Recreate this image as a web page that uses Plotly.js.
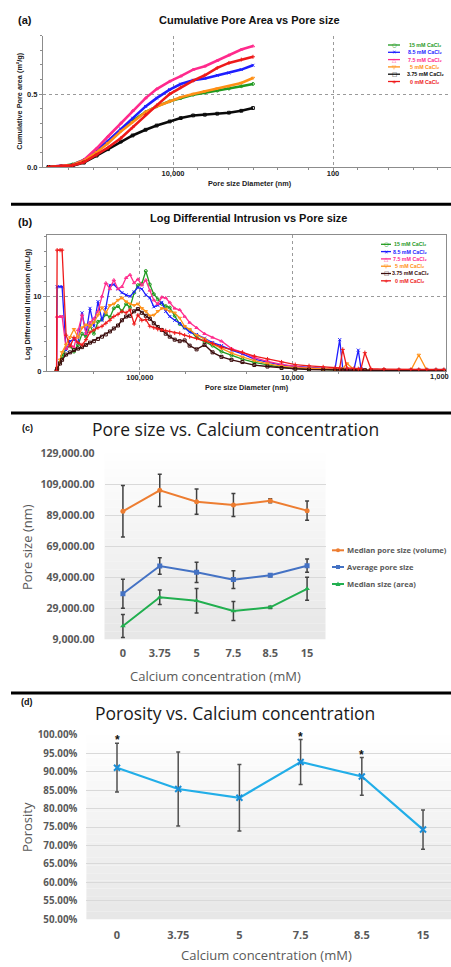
<!DOCTYPE html>
<html><head><meta charset="utf-8">
<script src="https://cdn.plot.ly/plotly-3.0.1.min.js"></script>
<style>html,body{margin:0;padding:0;background:#fff}#chart{width:451px;height:967px}</style>
</head><body><div id="chart"></div>
<script>
// ================= DATA =================
const seriesNames = ['15 mM CaCl₂','8.5 mM CaCl₂','7.5 mM CaCl₂','5 mM CaCl₂','3.75 mM CaCl₂','0 mM CaCl₂'];

// (a) Cumulative pore area (m²/g) vs pore size diameter (nm)
const areaDiameter = [360000,250000,180000,130000,90000,65000,45000,32000,22000,16000,11000,8000,5600,4000,2800,2000,1400,1000];
const area15  = [0,0.005,0.018,0.048,0.110,0.174,0.255,0.317,0.376,0.415,0.450,0.472,0.495,0.509,0.523,0.537,0.553,0.569];
const area85  = [0.002,0.007,0.014,0.041,0.110,0.179,0.261,0.335,0.415,0.472,0.530,0.568,0.594,0.606,0.628,0.644,0.667,0.697];
const area75  = [0.002,0.007,0.014,0.048,0.128,0.209,0.300,0.385,0.472,0.534,0.587,0.622,0.667,0.690,0.729,0.766,0.805,0.828];
const area5   = [0,0.005,0.014,0.041,0.101,0.163,0.243,0.307,0.376,0.415,0.450,0.477,0.500,0.518,0.537,0.553,0.576,0.610];
const area375 = [0,0.002,0.009,0.030,0.078,0.122,0.174,0.216,0.255,0.284,0.312,0.335,0.353,0.358,0.365,0.372,0.385,0.404];
const area0   = [0,0.005,0.011,0.032,0.083,0.133,0.197,0.271,0.358,0.422,0.500,0.546,0.592,0.628,0.679,0.713,0.736,0.755];
const areaTickVals = [10000, 100];
const areaTickText = ['10,000', '100'];

// (b) Log differential intrusion (mL/g) vs pore size diameter (nm)
const ldiDiameter = [351000,348000,333000,323000,304000,286000,270000,254000,239000,225000,212000,200000,188000,177000,167000,157000,148000,139000,131000,123000,116000,109000,103000,97000,91400,86000,81000,76300,71800,67700,63700,59100,54800,50900,47200,42500,37700,33400,29200,25100,21300,17800,14600,11800,9600,7800,6300,5270,4910,4690,4400,3960,3710,3560,3360,3070,2520,2010,1680,1490,1320,1150,1020];
const ldi15  = [0,0.3,1.2,2.0,3.0,3.4,2.6,3.5,5.0,4.6,6.1,5.0,6.6,6.9,7.6,7.2,8.4,8.7,8.0,9.0,8.5,10.5,11.5,11.7,13.4,11.6,10.3,9.6,9.0,8.7,8.5,7.4,6.3,5.8,5.5,4.5,3.9,3.4,2.6,2.1,1.6,1.15,0.85,0.5,0.35,0.25,0.18,0.12,0.1,0.1,0.1,0.08,0.08,0.08,0.08,0.06,0.06,0.05,0.05,0.05,0.05,0.05,0.05];
const ldi85  = [0,11.3,11.3,11.3,2.8,4.0,4.2,3.8,7.8,5.0,8.4,6.0,9.3,6.8,8.5,11.5,11.6,11.0,10.5,10.2,10.0,10.6,11.2,11.0,10.2,9.8,8.6,8.8,9.2,8.0,7.3,6.8,6.4,5.8,5.2,4.9,4.4,3.8,3.4,2.8,2.3,1.6,1.2,0.8,0.6,0.45,0.3,0.25,4.2,0.3,0.2,0.2,2.8,0.3,0.15,0.15,0.12,0.1,0.1,0.1,0.1,0.1,0.1];
const ldi75  = [0,7.3,7.3,7.3,3.0,3.5,3.2,5.5,7.5,5.0,6.5,7.0,8.0,10.0,11.8,11.0,12.2,11.0,11.3,12.5,12.9,11.8,12.3,11.5,12.2,10.8,9.5,9.0,9.9,9.8,9.2,8.4,8.2,7.3,6.5,5.8,5.0,4.5,4.0,3.0,2.5,1.8,1.3,0.9,0.6,0.4,0.3,0.25,0.2,0.2,0.2,0.15,0.15,0.15,0.15,0.12,0.12,0.1,0.1,0.1,0.1,0.1,0.1];
const ldi5   = [0,0.3,1.5,2.5,3.5,4.5,5.6,4.5,5.8,6.2,6.0,6.5,7.5,8.5,7.8,8.8,9.0,9.5,9.8,9.3,9.0,8.8,9.0,8.4,8.0,7.4,7.5,8.0,8.4,8.3,8.0,7.8,7.1,6.0,5.6,4.8,4.3,3.6,3.0,2.4,1.9,1.4,1.0,0.65,0.45,0.35,0.25,0.2,0.2,0.3,1.0,0.2,0.15,0.15,0.15,0.12,0.12,0.1,0.1,2.15,0.1,0.1,0.1];
const ldi375 = [0,0.3,1.0,1.5,2.2,2.5,2.8,3.0,3.2,3.5,3.8,4.0,4.3,4.6,4.9,5.3,5.7,6.1,6.8,7.3,7.4,8.0,8.3,7.8,7.4,7.0,6.4,5.9,5.5,5.0,4.6,4.2,4.0,4.1,3.4,2.9,3.5,2.5,1.9,1.5,1.2,0.8,0.6,0.4,0.3,0.2,0.15,0.1,0.1,0.1,0.1,0.1,0.1,0.1,0.1,0.08,0.08,0.05,0.05,0.05,0.05,0.05,0.05];
const ldi0   = [0,16.2,16.2,16.2,4.8,3.3,4.5,3.8,3.5,4.2,5.2,5.5,5.8,6.0,6.4,6.8,7.3,7.6,8.0,7.8,8.2,6.3,7.5,6.8,6.9,6.0,5.8,5.6,5.5,5.4,5.3,5.1,5.05,4.8,4.6,4.4,4.1,3.7,3.2,2.9,2.5,2.0,1.6,1.2,0.85,0.7,0.55,0.45,0.4,2.9,0.4,0.35,0.3,0.3,2.45,0.3,0.25,0.2,0.2,0.2,0.2,0.2,0.2];
const ldiTickVals = [100000, 10000, 1000];
const ldiTickText = ['100,000', '10,000', '1,000'];

// (c) Pore size vs calcium concentration
const calcium = ['0','3.75','5','7.5','8.5','15'];
const poreSeriesNames = ['Median pore size (volume)','Average pore size','Median size (area)'];
const medianVolume    = [91600,105100,97800,95600,98400,92000];
const medianVolumeErr = [16600,10400,8100,7400,1300,6200];
const averagePore     = [38400,56300,52200,47500,50300,56500];
const averagePoreErr  = [9300,5300,6500,5800,900,4300];
const medianArea      = [17600,36100,33900,27300,29600,41600];
const medianAreaErr   = [7400,4700,7900,6100,800,7400];
const poreTickVals = [9000,29000,49000,69000,89000,109000,129000];
const poreTickText = ['9,000.00','29,000.00','49,000.00','69,000.00','89,000.00','109,000.00','129,000.00'];

// (d) Porosity vs calcium concentration
const porosity    = [0.9106,0.853,0.829,0.926,0.887,0.743];
const porosityErr = [0.066,0.100,0.090,0.061,0.051,0.053];
const significance = ['*','','','*','*',''];
const porTickVals = [0.50,0.55,0.60,0.65,0.70,0.75,0.80,0.85,0.90,0.95,1.00];
const porTickText = ['50.00%','55.00%','60.00%','65.00%','70.00%','75.00%','80.00%','85.00%','90.00%','95.00%','100.00%'];

// ================= STYLE / LAYOUT =================
const W = 451, H = 967;
const PX = v => v / W;
const PY = v => 1 - v / H;
const fA = 'Liberation Sans, Arial, sans-serif';
const fC = 'Open Sans, Noto Sans, sans-serif';
const grayC = '#595959';

const colA = ['#1f9a1f','#1e1eff','#ff2a8c','#ff9016','#0a0a0a','#ee1a1a'];
const colB = ['#1f9a1f','#1e1eff','#ff2a8c','#ff9016','#3a0c0c','#ee1a1a'];
const sym  = ['circle-open','x-thin-open','triangle-up-open','triangle-down-open','square-open','cross-thin-open'];
const glyph = ['○','✕','△','▽','□','+'];

const areaSeries = [area15, area85, area75, area5, area375, area0];
const ldiSeries  = [ldi15, ldi85, ldi75, ldi5, ldi375, ldi0];

const traces = [];
areaSeries.forEach((ys, i) => traces.push({
  x: areaDiameter, y: ys, xaxis: 'x', yaxis: 'y', name: seriesNames[i], type: 'scatter',
  mode: 'lines+markers', showlegend: false,
  line: {color: colA[i], width: 2.6},
  marker: {symbol: sym[i], size: 2.8, color: colA[i], line: {color: colA[i], width: 1}}
}));
ldiSeries.forEach((ys, i) => traces.push({
  x: ldiDiameter, y: ys, xaxis: 'x2', yaxis: 'y2', name: seriesNames[i], type: 'scatter',
  mode: 'lines+markers', showlegend: false,
  line: {color: colB[i], width: 1.3},
  marker: {symbol: sym[i], size: 3, color: colB[i], line: {color: colB[i], width: 1}}
}));
const cSeries = [[medianVolume, medianVolumeErr, '#ED7D31', 'circle'],
                 [averagePore, averagePoreErr, '#4472C4', 'square'],
                 [medianArea, medianAreaErr, '#21AF4F', 'triangle-up']];
cSeries.forEach((s, i) => traces.push({
  x: calcium, y: s[0], xaxis: 'x3', yaxis: 'y3', name: poreSeriesNames[i], type: 'scatter',
  mode: 'lines+markers', showlegend: false,
  line: {color: s[2], width: 2}, marker: {symbol: s[3], size: 5, color: s[2]},
  error_y: {type: 'data', array: s[1], visible: true, color: '#404040', thickness: 1.5, width: 2}
}));
traces.push({
  x: calcium, y: porosity, xaxis: 'x4', yaxis: 'y4', name: 'Porosity', type: 'scatter',
  mode: 'lines+markers', showlegend: false,
  line: {color: '#22AEE8', width: 2.2},
  marker: {symbol: 'x-thin-open', size: 6, color: '#1a8fd8', line: {color: '#1a8fd8', width: 2}},
  error_y: {type: 'data', array: porosityErr, visible: true, color: '#505050', thickness: 1.5, width: 2}
});

const tfA = {family: fA, size: 7.5, color: '#222', weight: 'bold'};
const logAxisCommon = {
  type: 'log', showgrid: true, gridcolor: '#9a9a9a', griddash: 'dot', gridwidth: 1,
  showline: true, linecolor: '#8c8c8c', linewidth: 1, ticks: 'outside', ticklen: 3, tickcolor: '#8c8c8c',
  tickfont: tfA, zeroline: false, tickmode: 'array', ticklabelstandoff: -4,
  minor: {ticks: 'outside', ticklen: 2, tickcolor: '#8c8c8c', dtick: 'D2', showgrid: false}
};

const shapes = [];
// panel separators
[204.3, 413, 693].forEach(y => shapes.push({type: 'line', xref: 'paper', yref: 'paper',
  x0: PX(11), x1: 1, y0: PY(y), y1: PY(y), line: {color: '#000', width: 3}}));
// gradient plot backgrounds for (c) and (d)
['3', '4'].forEach(k => {
  const n = 24;
  for (let i = 0; i < n; i++) {
    const g = Math.round(231 + (254 - 231) * (i / (n - 1)));
    shapes.push({type: 'rect', xref: 'x' + k + ' domain', yref: 'y' + k + ' domain', layer: 'below',
      x0: 0, x1: 1, y0: i / n, y1: (i + 1) / n, line: {width: 0}, fillcolor: `rgb(${g},${g},${g})`});
  }
});

const ann = [];
const txt = (x, y, text, font, extra) => ann.push(Object.assign({xref: 'paper', yref: 'paper',
  x: PX(x), y: PY(y), text, showarrow: false, font, xanchor: 'center', yanchor: 'middle'}, extra || {}));

// panel labels & titles
const lab = {family: fA, size: 11, color: '#111', weight: 'bold'};
txt(25, 20, '(a)', lab);
txt(249, 20, 'Cumulative Pore Area vs Pore size', {family: fA, size: 11, color: '#111', weight: 'bold'});
txt(25, 221.7, '(b)', lab);
txt(248, 218.5, 'Log Differential Intrusion vs Pore size', {family: fA, size: 11, color: '#111', weight: 'bold'});
txt(27, 428.5, '(c)', {family: fA, size: 9, color: '#111', weight: 'bold'});
txt(235, 429.5, 'Pore size vs. Calcium concentration', {family: fC, size: 17.5, color: '#1a1a1a'});
txt(27, 702, '(d)', {family: fA, size: 9, color: '#111', weight: 'bold'});
txt(235, 713, 'Porosity vs. Calcium concentration', {family: fC, size: 17.5, color: '#1a1a1a'});

// last (b) tick label sits at the page edge: keep it whole, right-aligned to the edge
txt(451, 376, ldiTickText[2], tfA, {xanchor: 'right'});

// axis titles
const atA = {family: fA, size: 7.3, color: '#222', weight: 'bold'};
txt(250, 183.5, 'Pore size Diameter (nm)', atA);
txt(20, 101.7, 'Cumulative Pore area (m²/g)', atA, {textangle: -90});
txt(247, 387.7, 'Pore size Diameter (nm)', atA);
txt(27, 304, 'Log Differential Intrusion (mL/g)', atA, {textangle: -90});
const atC = {family: fC, size: 13, color: grayC};
txt(215, 675.7, 'Calcium concentration (mM)', atC);
txt(27, 547, 'Pore size (nm)', atC, {textangle: -90});
txt(266.3, 955, 'Calcium concentration (mM)', atC);
txt(27, 827, 'Porosity', atC, {textangle: -90});

// mini legends for (a) and (b)
const legA = {lineX0: 388, lineX1: 400, textX: 425, y0: 45, dy: 7.3};
const legB = {lineX0: 381, lineX1: 391, textX: 410, y0: 244.3, dy: 7.3};
[[legA, colA], [legB, colB]].forEach(([L, cols]) => {
  seriesNames.forEach((nm, i) => {
    const y = L.y0 + i * L.dy;
    shapes.push({type: 'line', xref: 'paper', yref: 'paper', x0: PX(L.lineX0), x1: PX(L.lineX1),
      y0: PY(y), y1: PY(y), line: {color: cols[i], width: 1.3}});
    txt((L.lineX0 + L.lineX1) / 2, y, glyph[i], {family: 'DejaVu Sans', size: 5.5, color: cols[i]});
    txt(L.textX, y, nm, {family: fA, size: 5.3, color: cols[i], weight: 'bold'});
  });
});
// legend for (c)
const legC = [[550.3, '#ED7D31', 'circle'], [567, '#4472C4', 'square'], [584, '#21AF4F', 'triangle']];
legC.forEach(([y, c, m], i) => {
  shapes.push({type: 'line', xref: 'paper', yref: 'paper', x0: PX(332), x1: PX(344), y0: PY(y), y1: PY(y),
    line: {color: c, width: 2}});
  if (m === 'triangle') {
    shapes.push({type: 'path', xref: 'paper', yref: 'paper', fillcolor: c, line: {width: 0},
      path: `M ${PX(335.5)} ${PY(y + 2)} L ${PX(340.5)} ${PY(y + 2)} L ${PX(338)} ${PY(y - 2.5)} Z`});
  } else {
    shapes.push({type: m === 'circle' ? 'circle' : 'rect', xref: 'paper', yref: 'paper', fillcolor: c,
      line: {width: 0}, x0: PX(336), x1: PX(340), y0: PY(y + 2), y1: PY(y - 2)});
  }
  txt(344.5, y, poreSeriesNames[i], {family: fC, size: 7.6, color: grayC, weight: 'bold'}, {xanchor: 'left'});
});
// significance marks on (d)
significance.forEach((s, i) => {
  if (s) ann.push({xref: 'x4', yref: 'y4', x: i, y: porosity[i] + porosityErr[i], text: s,
    showarrow: false, yanchor: 'middle', yshift: 3, font: {family: fA, size: 12, color: '#111', weight: 'bold'}});
});

const layout = {
  width: W, height: H, margin: {l: 0, r: 0, t: 0, b: 0},
  paper_bgcolor: '#ffffff', plot_bgcolor: 'rgba(0,0,0,0)', showlegend: false,
  font: {family: fA},
  xaxis: Object.assign({}, logAxisCommon, {domain: [PX(43), 1], range: [5.625, 0.525], anchor: 'y',
    tickvals: areaTickVals, ticktext: areaTickText}),
  yaxis: {domain: [PY(167), PY(35.6)], range: [0, 0.9], anchor: 'x', tickmode: 'array',
    tickvals: [0, 0.5], ticktext: ['0.0', '0.5'], showgrid: true, gridcolor: '#9a9a9a', griddash: 'dot',
    showline: true, linecolor: '#8c8c8c', ticks: 'outside', ticklen: 3, tickcolor: '#8c8c8c', tickfont: tfA,
    zeroline: false, minor: {ticks: 'outside', ticklen: 2, tickcolor: '#8c8c8c', dtick: 0.1, showgrid: false}},
  xaxis2: Object.assign({}, logAxisCommon, {domain: [PX(47), PX(446)], range: [5.608, 2.995], anchor: 'y2',
    mirror: true, tickvals: ldiTickVals, ticktext: [ldiTickText[0], ldiTickText[1], '']}),
  yaxis2: {domain: [PY(371), PY(235)], range: [0, 18.23], anchor: 'x2', tickmode: 'array',
    tickvals: [0, 10], ticktext: ['0', '10'], showgrid: true, gridcolor: '#9a9a9a', griddash: 'dot',
    showline: true, mirror: true, linecolor: '#8c8c8c', ticks: 'outside', ticklen: 3, tickcolor: '#8c8c8c',
    tickfont: tfA, zeroline: false, minor: {ticks: 'outside', ticklen: 2, tickcolor: '#8c8c8c', dtick: 2, showgrid: false}},
  xaxis3: {type: 'category', domain: [PX(104.5), PX(325.5)], range: [-0.5, 5.5], anchor: 'y3',
    showgrid: false, showline: false, ticks: '', zeroline: false,
    tickfont: {family: fC, size: 11, color: grayC, weight: 'bold'}, ticklabelstandoff: 6},
  yaxis3: {domain: [PY(639.3), PY(453.3)], range: [9000, 129000], anchor: 'x3', tickmode: 'array',
    tickvals: poreTickVals, ticktext: poreTickText, showgrid: true, gridcolor: '#d9d9d9', gridwidth: 1,
    showline: false, ticks: '', zeroline: false, ticklabelstandoff: 9,
    tickfont: {family: fC, size: 10.5, color: grayC, weight: 'bold'}},
  xaxis4: {type: 'category', domain: [PX(86.4), 1], range: [-0.5, 5.457], anchor: 'y4',
    showgrid: false, showline: false, ticks: '', zeroline: false,
    tickfont: {family: fC, size: 11, color: grayC, weight: 'bold'}, ticklabelstandoff: 8},
  yaxis4: {domain: [PY(919.3), PY(734.7)], range: [0.5, 1.0], anchor: 'x4', tickmode: 'array',
    tickvals: porTickVals, ticktext: porTickText, showgrid: true, gridcolor: '#d9d9d9', gridwidth: 1,
    showline: false, ticks: '', zeroline: false, ticklabelstandoff: 8,
    tickfont: {family: fC, size: 9.8, color: grayC, weight: 'bold'}},
  shapes, annotations: ann
};

Plotly.newPlot('chart', traces, layout, {staticPlot: true, displayModeBar: false});
</script></body></html>
